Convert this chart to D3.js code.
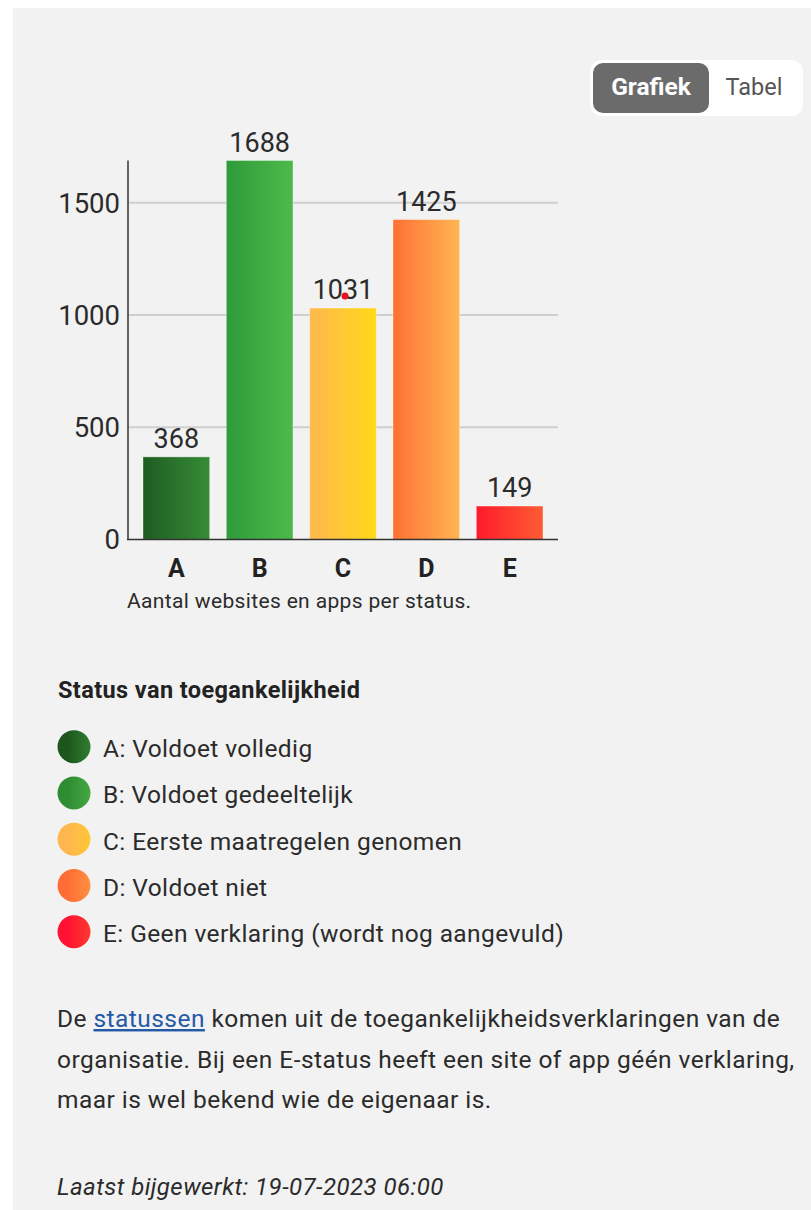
<!DOCTYPE html>
<html><head><meta charset="utf-8">
<script src="https://cdn.jsdelivr.net/npm/d3@7"></script>
<style>
html,body{margin:0;padding:0;background:#fff;}
svg{display:block;font-family:Roboto,"Noto Sans",sans-serif;}
</style></head>
<body><svg id="c" width="811" height="1210"></svg>
<script>
const categories = ["A","B","C","D","E"];
const values = [368,1688,1031,1425,149];
const yTicks = [0,500,1000,1500];
const legendLabels = ["A: Voldoet volledig","B: Voldoet gedeeltelijk","C: Eerste maatregelen genomen","D: Voldoet niet","E: Geen verklaring (wordt nog aangevuld)"];
const barColorsLeft  = ["#1e5c21","#2f9a3a","#ffb84f","#ff7034","#ff1a2c"];
const barColorsRight = ["#368c37","#4cbb4b","#ffd918","#ffb653","#ff5c34"];
const dotColorsLeft  = ["#1c561d","#2e8c33","#ffb64e","#ff6d36","#ff1232"];
const dotColorsRight = ["#2f7e30","#44a842","#ffc835","#ff9042","#ff3a30"];
const title = "Status van toegankelijkheid";
const caption = "Aantal websites en apps per status.";
const toggleLabels = ["Grafiek","Tabel"];
const updated = "Laatst bijgewerkt: 19-07-2023 06:00";

const svg = d3.select("#c");
const ink = "#2b2b2b";

// panel background
svg.append("rect").attr("x",13).attr("y",8).attr("width",811-13).attr("height",1210-8).attr("fill","#f2f2f2");

const defs = svg.append("defs");
categories.forEach((c,i)=>{
  const g = defs.append("linearGradient").attr("id","bar"+c).attr("x1","0").attr("x2","1").attr("y1","0").attr("y2","0");
  g.append("stop").attr("offset","0").attr("stop-color",barColorsLeft[i]);
  g.append("stop").attr("offset","1").attr("stop-color",barColorsRight[i]);
  const d = defs.append("linearGradient").attr("id","dot"+c).attr("x1","0").attr("x2","1").attr("y1","0").attr("y2","0");
  d.append("stop").attr("offset","0.3").attr("stop-color",dotColorsLeft[i]);
  d.append("stop").attr("offset","1").attr("stop-color",dotColorsRight[i]);
});

// toggle
const tg = svg.append("g");
tg.append("rect").attr("x",590).attr("y",60).attr("width",213).attr("height",56).attr("rx",12).attr("fill","#fff");
tg.append("rect").attr("x",593).attr("y",63).attr("width",116).attr("height",50).attr("rx",10).attr("fill","#6b6b6b");
tg.append("text").attr("x",651).attr("y",95).attr("text-anchor","middle").attr("font-size",24.5).attr("font-weight",700).attr("fill","#fff").text(toggleLabels[0]);
tg.append("text").attr("x",754).attr("y",95).attr("text-anchor","middle").attr("font-size",23.5).attr("fill","#555").text(toggleLabels[1]);

// scales
const x = d3.scaleBand().domain(categories).range([128,558]).paddingInner(0.2).paddingOuter(0.18);
const y = d3.scaleLinear().domain([0,d3.max(values)]).range([539.5,160.5]);

// gridlines
svg.append("g").selectAll("line").data(yTicks.filter(t=>t>0)).join("line")
  .attr("x1",128).attr("x2",558).attr("y1",d=>y(d)).attr("y2",d=>y(d))
  .attr("stroke","#cfcfcf").attr("stroke-width",2);

// y tick labels
svg.append("g").selectAll("text").data(yTicks).join("text")
  .attr("x",120).attr("y",d=>y(d)).attr("dy","0.36em").attr("text-anchor","end")
  .attr("font-size",27.5).attr("fill",ink).text(d=>d);

// bars
svg.append("g").selectAll("rect").data(values).join("rect")
  .attr("x",(d,i)=>x(categories[i])).attr("width",x.bandwidth())
  .attr("y",d=>y(d)).attr("height",d=>y(0)-y(d))
  .attr("fill",(d,i)=>"url(#bar"+categories[i]+")")
  .attr("stroke","rgba(255,255,255,0.35)").attr("stroke-width",1);

// value labels
svg.append("g").selectAll("text").data(values).join("text")
  .attr("x",(d,i)=>x(categories[i])+x.bandwidth()/2).attr("y",d=>y(d)-9)
  .attr("text-anchor","middle").attr("font-size",27).attr("fill",ink).text(d=>d);

// axes lines
svg.append("line").attr("x1",128).attr("x2",128).attr("y1",y(d3.max(values))).attr("y2",y(0)).attr("stroke","#333").attr("stroke-width",1.5);
svg.append("line").attr("x1",127).attr("x2",558).attr("y1",y(0)).attr("y2",y(0)).attr("stroke","#333").attr("stroke-width",1.5);

// category labels
svg.append("g").selectAll("text").data(categories).join("text")
  .attr("x",d=>x(d)+x.bandwidth()/2).attr("y",577).attr("text-anchor","middle")
  .attr("font-size",25).attr("font-weight",700).attr("fill","#222").text(d=>d);

// caption
svg.append("text").attr("x",127).attr("y",608).attr("font-size",21).attr("letter-spacing",0.35).attr("fill",ink).text(caption);

// red marker dot
svg.append("circle").attr("cx",x("C")+x.bandwidth()/2+2).attr("cy",y(values[2])-12).attr("r",3.5).attr("fill","#e8141c");

// legend
svg.append("text").attr("x",58).attr("y",698).attr("font-size",23.5).attr("letter-spacing",0.4).attr("font-weight",700).attr("fill","#222").text(title);
const lg = svg.append("g").selectAll("g").data(legendLabels).join("g")
  .attr("transform",(d,i)=>`translate(0,${746.7+i*46.25})`);
lg.append("circle").attr("cx",74).attr("cy",0).attr("r",16.5).attr("fill",(d,i)=>"url(#dot"+categories[i]+")");
lg.append("text").attr("x",103).attr("y",10.5).attr("font-size",24.5).attr("letter-spacing",0.4).attr("fill",ink).text(d=>d);

// paragraph
const para = svg.append("text").attr("font-size",24.5).attr("letter-spacing",0.45).attr("fill",ink);
const l1 = para.append("tspan").attr("x",57).attr("y",1027);
l1.append("tspan").text("De ");
l1.append("tspan").attr("fill","#2559a8").attr("text-decoration","underline").text("statussen");
l1.append("tspan").text(" komen uit de toegankelijkheidsverklaringen van de");
para.append("tspan").attr("x",57).attr("y",1067.5).text("organisatie. Bij een E-status heeft een site of app géén verklaring,");
para.append("tspan").attr("x",57).attr("y",1108).text("maar is wel bekend wie de eigenaar is.");

svg.append("text").attr("x",57).attr("y",1195).attr("font-size",24).attr("letter-spacing",0.45).attr("font-style","italic").attr("fill",ink).text(updated);
</script></body></html>
